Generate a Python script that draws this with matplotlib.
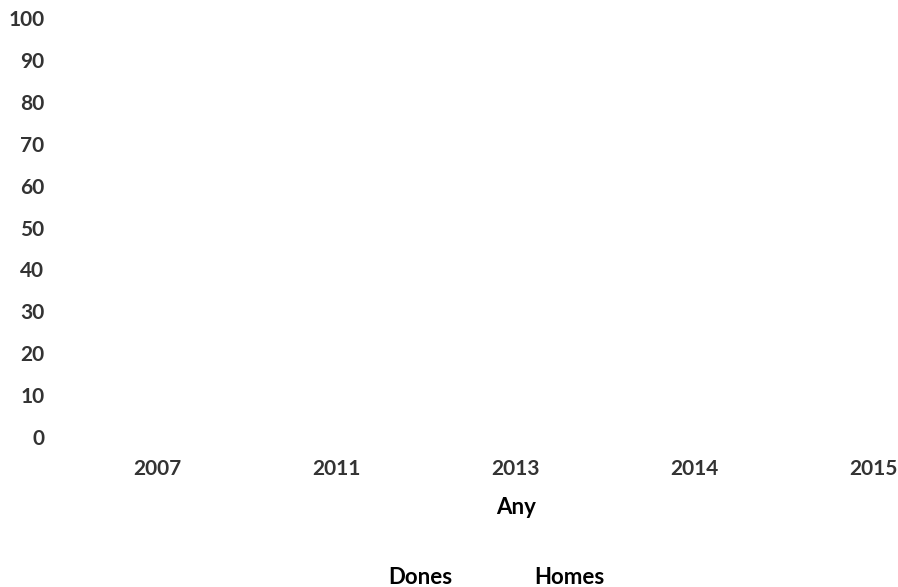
import matplotlib
matplotlib.use("Agg")
import matplotlib.pyplot as plt
import numpy as np

categories = ["2007", "2011", "2013", "2014", "2015"]
dones = [np.nan, np.nan, np.nan, np.nan, np.nan]
homes = [np.nan, np.nan, np.nan, np.nan, np.nan]
y_ticks = [0, 10, 20, 30, 40, 50, 60, 70, 80, 90, 100]

plt.rcParams['font.family'] = ['Lato', 'DejaVu Sans']

W, H = 898, 587
fig = plt.figure(figsize=(W / 100, H / 100), dpi=100)
left_px, right_px = 68, 898
ax = fig.add_axes([left_px / W, 1 - 437 / H, (right_px - left_px) / W, (437 - 18) / H])

x = np.arange(len(categories))
ax.plot(x, dones, color="#4472C4", label="Dones")
ax.plot(x, homes, color="#ED7D31", label="Homes")

ax.set_xlim(-(157 - left_px) / 179, 4 + (right_px - 873) / 179)
ax.set_ylim(0, 100)
ax.set_yticks(y_ticks)
ax.set_yticklabels([str(v) for v in y_ticks], fontsize=15, fontweight="bold", color="#333333")
ax.set_xticks(x)
ax.set_xticklabels(categories, fontsize=15, fontweight="bold", color="#333333")
ax.tick_params(axis="both", length=0)
ax.tick_params(axis="x", pad=15.5)
ax.tick_params(axis="y", pad=17)
for s in ax.spines.values():
    s.set_visible(False)

fig.text(516 / W, 1 - 508 / H, "Any", ha="center", va="center", fontsize=16, fontweight="bold", color="black")

fig.text(420 / W, 1 - 577 / H, "Dones", ha="center", va="center", fontsize=16, fontweight="bold", color="black")
fig.text(569 / W, 1 - 577 / H, "Homes", ha="center", va="center", fontsize=16, fontweight="bold", color="black")

fig.savefig("out.png", dpi=100)
